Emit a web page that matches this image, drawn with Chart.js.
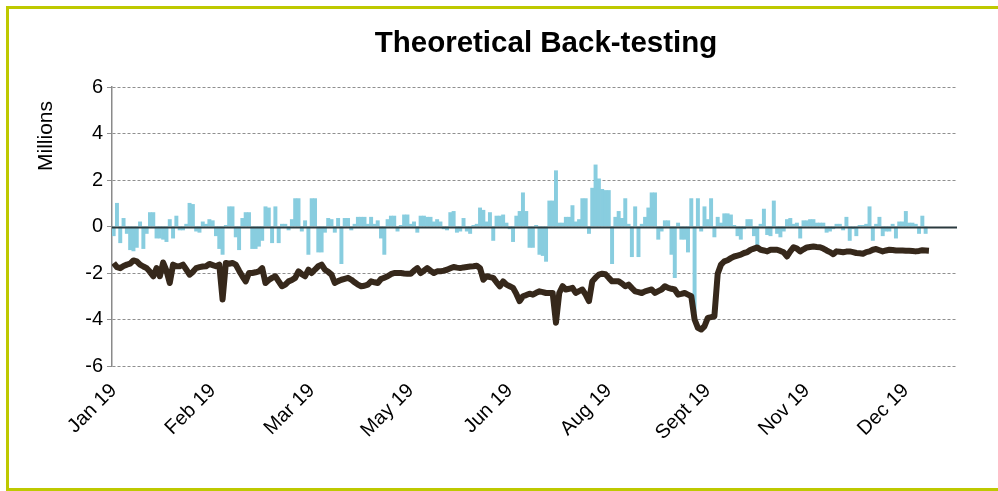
<!DOCTYPE html>
<html>
<head>
<meta charset="utf-8">
<script src="https://cdn.jsdelivr.net/npm/chart.js@4.4.0/dist/chart.umd.min.js"></script>
<style>
  html, body { margin: 0; padding: 0; background: #fff; }
  #wrap { position: relative; width: 998px; height: 491px; overflow: hidden; }
  #frame { position: absolute; left: 6px; top: 6px; width: 1100px; height: 479px; border: 3px solid #bec900; }
  canvas { position: absolute; left: 0; top: 0; }
</style>
</head>
<body>
<div id="wrap">
  <div id="frame"></div>
  <canvas id="chart" width="998" height="491"></canvas>
</div>
<script>
// ── Data (millions) ──────────────────────────────────
const tickPositions = [0, 30, 60, 90, 120, 150, 180, 210, 240];
const tickLabels = ['Jan 19', 'Feb 19', 'Mar 19', 'May 19', 'Jun 19', 'Aug 19', 'Sept 19', 'Nov 19', 'Dec 19'];

// daily P&L bars
const dailyPnl = [
  -0.4, 1.0, -0.7, 0.35, -0.3, -1.0, -1.05, -0.9, 0.2, -0.95,
  -0.3, 0.6, 0.6, -0.5, -0.5, -0.55, -0.65, 0.3, -0.5, 0.45,
  -0.15, -0.15, 0.1, 1.0, 0.95, -0.2, -0.25, 0.2, 0.1, 0.3,
  0.25, -0.4, -0.95, -1.2, 0.05, 0.85, 0.85, -0.45, -1.0, 0.35,
  0.6, 0.6, -0.95, -0.95, -0.85, -0.6, 0.85, 0.8, -0.7, 0.85,
  -0.7, 0.1, 0.1, -0.15, 0.3, 1.2, 1.2, -0.2, 0.25, -1.2,
  1.2, 1.2, -1.1, -1.1, -0.25, 0.35, 0.3, -0.25, 0.35, -1.6,
  0.35, 0.35, -0.15, 0.1, 0.4, 0.4, 0.4, 0.1, 0.4, 0.1,
  0.25, -0.5, -1.2, 0.3, 0.45, 0.45, -0.2, 0.05, 0.5, 0.5,
  0.1, 0.2, -0.25, 0.45, 0.45, 0.4, 0.4, 0.2, 0.3, 0.2,
  -0.1, -0.15, 0.6, 0.65, -0.25, -0.2, 0.35, -0.2, -0.3, 0.05,
  0.1, 0.8, 0.7, 0.2, 0.6, -0.6, 0.45, 0.45, 0.5, 0.15,
  -0.1, -0.65, 0.45, 0.65, 1.45, 0.65, -0.9, -0.9, 0.05, -1.2,
  -1.25, -1.5, 1.1, 1.1, 2.4, 0.15, 0.15, 0.4, 0.4, 0.9,
  0.2, 0.3, 1.2, 1.2, -0.3, 1.65, 2.65, 2.05, 1.6, 1.55,
  1.55, -1.6, 0.4, 0.65, 0.35, 1.2, 0.1, -1.3, 0.85, -1.3,
  0.1, 0.4, 0.8, 1.45, 1.45, -0.55, -0.2, 0.25, 0.25, -1.2,
  -2.2, 0.15, -0.55, -0.55, -1.1, 1.2, -3.7, 1.2, -0.2, 0.85,
  0.3, 1.2, -0.45, 0.4, 0.15, 0.55, 0.55, 0.5, 0.05, -0.4,
  -0.55, -0.1, 0.3, 0.3, -0.4, -0.85, 0.1, 0.75, -0.35, -0.4,
  1.1, -0.3, -0.45, -0.2, 0.3, 0.35, 0.1, 0.15, -0.5, 0.25,
  0.25, 0.3, 0.3, 0.15, 0.15, 0.15, -0.25, -0.2, -0.1, 0.1,
  0.1, -0.15, 0.4, -0.6, -0.1, -0.4, 0.05, 0.05, 0.1, 0.85,
  -0.6, 0.1, 0.4, -0.4, -0.2, -0.2, 0.1, -0.5, 0.2, 0.2,
  0.65, 0.15, 0.15, 0.1, -0.3, 0.45, -0.3
];

// running position line
const runningPnl = [
  -1.57, -1.75, -1.79, -1.7, -1.64, -1.6, -1.46, -1.5, -1.64, -1.72,
  -1.79, -1.95, -2.14, -1.79, -2.14, -1.55, -1.9, -2.43, -1.64, -1.71,
  -1.71, -1.64, -1.85, -2.07, -1.95, -1.79, -1.75, -1.72, -1.71, -1.61,
  -1.66, -1.71, -1.64, -3.14, -1.57, -1.6, -1.57, -1.64, -1.9, -2.14,
  -2.36, -2.0, -2.0, -1.97, -1.93, -1.79, -2.43, -2.3, -2.21, -2.14,
  -2.36, -2.57, -2.5, -2.36, -2.3, -2.21, -1.93, -2.05, -2.14, -1.86,
  -2.0, -1.85, -1.71, -1.64, -1.86, -1.95, -2.07, -2.43, -2.35, -2.29,
  -2.25, -2.21, -2.29, -2.4, -2.5, -2.57, -2.55, -2.5, -2.36, -2.4,
  -2.43, -2.26, -2.2, -2.14, -2.05, -2.0, -2.0, -2.0, -2.02, -2.03,
  -2.03, -1.9, -1.79, -2.0, -1.9, -1.79, -1.9, -2.0, -1.93, -1.93,
  -1.9, -1.86, -1.8, -1.74, -1.77, -1.79, -1.76, -1.74, -1.72, -1.71,
  -1.69, -1.79, -2.29, -2.14, -2.18, -2.21, -2.4, -2.57, -2.36, -2.5,
  -2.57, -2.64, -2.9, -3.21, -3.0, -2.95, -2.89, -2.93, -2.85, -2.79,
  -2.82, -2.86, -2.86, -2.86, -4.14, -2.86, -2.57, -2.71, -2.68, -2.64,
  -2.86, -2.78, -2.71, -2.93, -3.21, -2.36, -2.2, -2.07, -2.03, -2.05,
  -2.21, -2.36, -2.36, -2.36, -2.45, -2.57, -2.5, -2.65, -2.79, -2.82,
  -2.86, -2.79, -2.75, -2.71, -2.86, -2.78, -2.71, -2.57, -2.64, -2.68,
  -2.71, -2.93, -2.9, -2.86, -2.93, -3.0, -4.0, -4.36, -4.43, -4.29,
  -3.93, -3.9, -3.86, -2.03, -1.64, -1.5, -1.45, -1.36, -1.29, -1.25,
  -1.21, -1.14, -1.1, -1.0, -0.95, -0.9, -1.0, -1.03, -1.07, -1.0,
  -1.0, -1.0, -1.05, -1.11, -1.29, -1.07, -0.89, -0.95, -1.07, -0.98,
  -0.9, -0.88, -0.86, -0.88, -0.89, -0.95, -1.03, -1.1, -1.19, -1.07,
  -1.09, -1.11, -1.08, -1.07, -1.1, -1.14, -1.15, -1.17, -1.1, -1.07,
  -1.0, -0.97, -1.02, -1.07, -1.03, -1.0, -1.01, -1.03, -1.03, -1.03,
  -1.04, -1.04, -1.05, -1.07, -1.05, -1.02, -1.03, -1.04
];

const AXIS_MAX = 255.5;

// ── Overlay: title, y title, zero line ───────────────
const overlay = {
  id: 'overlay',
  afterDatasetsDraw(chart) {
    const { ctx, chartArea, scales: { y } } = chart;
    const y0 = Math.round(y.getPixelForValue(0)) + 0.5;
    ctx.save();
    ctx.strokeStyle = '#2b3a3f';
    ctx.lineWidth = 2;
    ctx.beginPath();
    ctx.moveTo(chartArea.left, y0);
    ctx.lineTo(chartArea.right, y0);
    ctx.stroke();
    ctx.restore();
  },
  afterDraw(chart) {
    const ctx = chart.ctx;
    ctx.save();
    ctx.fillStyle = '#000';
    ctx.textAlign = 'center';
    ctx.textBaseline = 'middle';
    ctx.font = 'bold 29.5px "Liberation Sans", Arial, sans-serif';
    ctx.fillText('Theoretical Back-testing', 546, 44);
    ctx.translate(46, 136);
    ctx.rotate(-Math.PI / 2);
    ctx.font = '21px "Liberation Sans", Arial, sans-serif';
    ctx.fillText('Millions', 0, 0);
    ctx.restore();
  }
};

new Chart(document.getElementById('chart'), {
  data: {
    datasets: [
      {
        type: 'line',
        data: runningPnl.map((v, i) => ({ x: i, y: v })),
        borderColor: '#36281b',
        borderWidth: 6,
        pointRadius: 0,
        tension: 0,
        borderJoinStyle: 'round',
        order: 0
      },
      {
        type: 'bar',
        data: dailyPnl.map((v, i) => ({ x: i, y: v })),
        backgroundColor: '#88cddf',
        barPercentage: 1,
        categoryPercentage: 1,
        order: 1
      }
    ]
  },
  options: {
    responsive: false,
    animation: false,
    layout: { padding: { top: 87, right: 41, bottom: 0, left: 0 } },
    plugins: { legend: { display: false }, tooltip: { enabled: false } },
    scales: {
      x: {
        type: 'linear',
        offset: false,
        min: -0.5,
        max: AXIS_MAX,
        grid: { display: false, drawTicks: false },
        border: { display: false },
        afterBuildTicks: s => { s.ticks = tickPositions.map(v => ({ value: v })); },
        afterFit: s => { s.height = 125; },
        ticks: {
          autoSkip: false,
          maxRotation: 45,
          minRotation: 45,
          padding: 13,
          color: '#000',
          font: { family: '"Liberation Sans", Arial, sans-serif', size: 20 },
          callback: v => tickLabels[tickPositions.indexOf(v)]
        }
      },
      y: {
        min: -6,
        max: 6,
        afterFit: s => { s.width = 112; },
        grid: {
          color: ctx => ctx.tick && ctx.tick.value === 0 ? 'rgba(0,0,0,0)' : '#8f8f8f',
          lineWidth: 1,
          tickLength: 5,
          tickColor: '#8f8f8f'
        },
        border: { display: true, color: '#8a8a8a', width: 1.5, dash: [3, 2] },
        ticks: {
          stepSize: 2,
          padding: 4,
          color: '#000',
          font: { family: '"Liberation Sans", Arial, sans-serif', size: 20 }
        }
      }
    }
  },
  plugins: [overlay]
});
</script>
</body>
</html>
